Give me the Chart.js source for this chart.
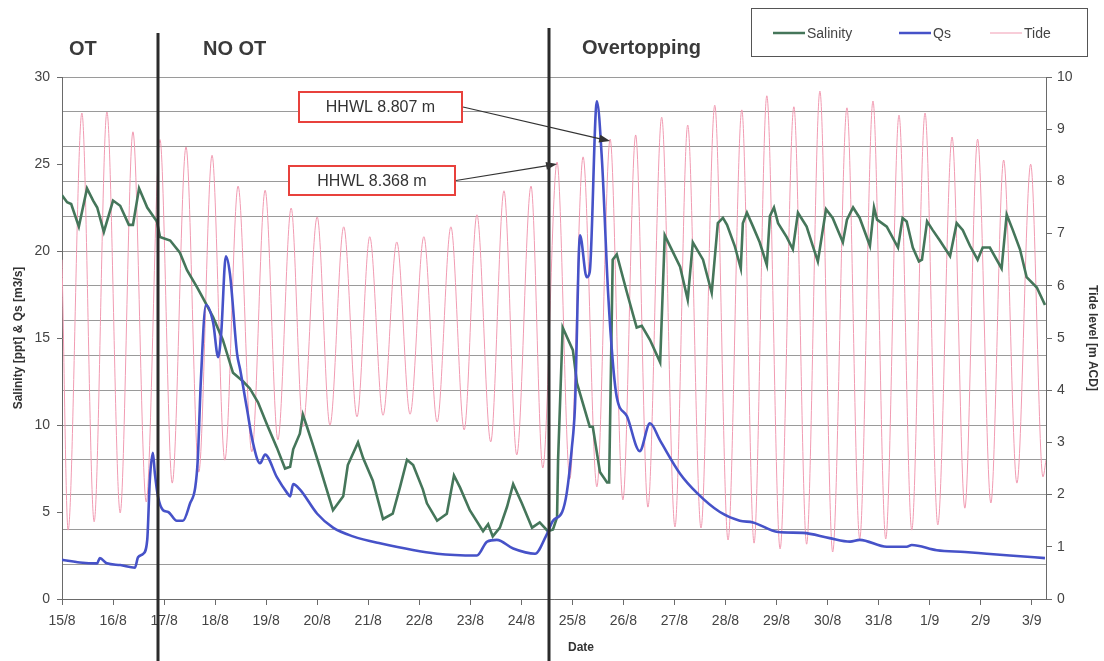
<!DOCTYPE html>
<html>
<head>
<meta charset="utf-8">
<script src="https://cdn.jsdelivr.net/npm/chart.js@4/dist/chart.umd.min.js"></script>
<style>
  html, body { margin: 0; padding: 0; background: #fff; }
</style>
</head>
<body>
<canvas id="chart" width="1104" height="661"></canvas>
<script>
// x values are days since 15/8
const dayLabels = ["15/8", "16/8", "17/8", "18/8", "19/8", "20/8", "21/8", "22/8", "23/8", "24/8",
  "25/8", "26/8", "27/8", "28/8", "29/8", "30/8", "31/8", "1/9", "2/9", "3/9"];

// tide highs and lows [m ACD]
const tideTime = [0, 0.12, 0.39, 0.63, 0.88, 1.14, 1.39, 1.65, 1.92, 2.16, 2.43, 2.68, 2.94, 3.19, 3.45,
  3.72, 3.98, 4.23, 4.49, 4.72, 5.00, 5.25, 5.52, 5.78, 6.03, 6.29, 6.56, 6.82, 7.09, 7.35, 7.62, 7.88,
  8.13, 8.40, 8.66, 8.91, 9.19, 9.42, 9.70, 9.95, 10.21, 10.48, 10.74, 10.99, 11.24, 11.48, 11.75, 12.01,
  12.26, 12.52, 12.79, 13.05, 13.32, 13.56, 13.81, 14.07, 14.34, 14.59, 14.85, 15.10, 15.38, 15.63, 15.89,
  16.14, 16.40, 16.65, 16.91, 17.16, 17.44, 17.69, 17.94, 18.20, 18.45, 18.71, 18.98, 19.22, 19.28];
const tideLevel = [6.5, 1.32, 9.31, 1.48, 9.33, 1.65, 8.95, 1.86, 8.8, 2.22, 8.66, 2.43, 8.5, 2.66, 7.91,
  2.82, 7.83, 3.05, 7.49, 3.3, 7.32, 3.33, 7.13, 3.49, 6.94, 3.52, 6.84, 3.54, 6.94, 3.39, 7.13, 3.24,
  7.36, 3.01, 7.82, 2.76, 7.91, 2.51, 8.37, 2.3, 8.47, 2.15, 8.81, 1.9, 8.89, 1.76, 9.23, 1.38,
  9.08, 1.36, 9.46, 1.13, 9.37, 1.07, 9.64, 0.96, 9.43, 1.05, 9.73, 0.9, 9.41, 1.15, 9.54,
  1.15, 9.27, 1.32, 9.31, 1.42, 8.85, 1.74, 8.81, 1.84, 8.41, 2.22, 8.33, 2.34, 2.66];

// salinity [ppt]
const salTime = [0, 0.10, 0.18, 0.33, 0.49, 0.61, 0.69, 0.82, 1.00, 1.14,
  1.31, 1.39, 1.51, 1.67, 1.86, 1.92, 2.12, 2.31, 2.45, 2.65,
  2.76, 2.96, 3.15, 3.35, 3.55, 3.68, 3.84, 4.02, 4.21, 4.37,
  4.47, 4.53, 4.66, 4.72, 4.80, 4.90, 5.05, 5.31, 5.51, 5.60,
  5.80, 5.90, 6.09, 6.29, 6.48, 6.62, 6.76, 6.88, 7.07, 7.15,
  7.35, 7.54, 7.68, 7.80, 7.99, 8.25, 8.35, 8.44, 8.58, 8.72,
  8.84, 9.01, 9.21, 9.36, 9.52, 9.62, 9.70, 9.72, 9.81, 10.01,
  10.09, 10.34, 10.40, 10.54, 10.68, 10.72, 10.79, 10.87, 11.07, 11.26,
  11.36, 11.52, 11.72, 11.81, 12.11, 12.26, 12.36, 12.56, 12.73, 12.85,
  12.95, 13.03, 13.18, 13.30, 13.34, 13.42, 13.54, 13.67, 13.81, 13.87,
  13.95, 14.03, 14.20, 14.32, 14.42, 14.59, 14.71, 14.81, 14.97, 15.10,
  15.30, 15.38, 15.50, 15.63, 15.83, 15.91, 15.97, 16.16, 16.38, 16.47,
  16.55, 16.67, 16.79, 16.85, 16.95, 17.06, 17.20, 17.40, 17.53, 17.65,
  17.79, 17.94, 18.04, 18.18, 18.41, 18.51, 18.63, 18.77, 18.90, 19.10,
  19.26];
const salValue = [23.2, 22.8, 22.7, 21.4, 23.6, 22.9, 22.5, 21.1, 22.9, 22.6,
  21.5, 21.5, 23.6, 22.5, 21.7, 20.8, 20.6, 19.9, 18.9, 17.9,
  17.3, 16.2, 14.9, 13.0, 12.5, 12.1, 11.3, 10.0, 8.7, 7.5,
  7.6, 8.6, 9.5, 10.6, 9.9, 9.0, 7.6, 5.1, 5.9, 7.7,
  9.0, 8.1, 6.8, 4.6, 4.9, 6.4, 8.0, 7.7, 6.3, 5.5,
  4.5, 4.9, 7.1, 6.4, 5.1, 3.9, 4.3, 3.6, 4.1, 5.3,
  6.6, 5.5, 4.1, 4.4, 3.9, 4.0, 4.7, 8.0, 15.6, 14.3,
  12.4, 9.9, 9.9, 7.3, 6.7, 6.7, 19.5, 19.8, 17.6, 15.6,
  15.7, 14.9, 13.6, 20.9, 19.1, 17.2, 20.5, 19.5, 17.6, 21.6,
  21.9, 21.5, 20.3, 19.0, 21.6, 22.2, 21.4, 20.5, 19.2, 22.0,
  22.5, 21.6, 20.8, 20.1, 22.2, 21.4, 20.3, 19.4, 22.4, 21.9,
  20.5, 21.8, 22.5, 21.9, 20.3, 22.5, 21.8, 21.4, 20.2, 21.9,
  21.7, 20.2, 19.4, 19.5, 21.7, 21.2, 20.6, 19.7, 21.6, 21.2,
  20.3, 19.5, 20.2, 20.2, 19.0, 22.1, 21.2, 20.1, 18.5, 17.9,
  16.9];

// Qs [m3/s]
const qsTime = [0, 0.35, 0.69, 0.74, 0.88, 1.14, 1.43, 1.49, 1.59, 1.67,
  1.72, 1.78, 1.82, 1.88, 1.98, 2.08, 2.25, 2.37, 2.51, 2.61,
  2.66, 2.72, 2.82, 2.96, 3.06, 3.12, 3.21, 3.29, 3.43, 3.49,
  3.62, 3.74, 3.88, 3.98, 4.21, 4.41, 4.47, 4.53, 4.66, 5.00,
  5.31, 5.70, 6.23, 7.35, 8.13, 8.33, 8.52, 8.84, 9.27, 9.48,
  9.62, 9.80, 9.89, 9.99, 10.05, 10.15, 10.28, 10.34, 10.48, 10.58,
  10.70, 10.79, 10.87, 11.07, 11.32, 11.52, 11.72, 12.11, 12.44, 12.89,
  13.28, 13.54, 14.03, 14.52, 15.04, 15.44, 15.63, 16.16, 16.55, 16.65,
  17.14, 17.69, 18.12, 18.57, 19.26];
const qsValue = [2.25, 2.1, 2.05, 2.35, 2.05, 1.95, 1.8, 2.4, 2.6, 3.4,
  6.8, 8.4, 7.2, 5.9, 5.1, 5.0, 4.5, 4.5, 5.5, 6.4,
  8.0, 12.5, 16.9, 15.9, 13.9, 15.3, 19.7, 18.7, 14.1, 13.2,
  11.0, 9.0, 7.8, 8.3, 7.0, 6.1, 5.9, 6.6, 6.3, 4.9,
  4.1, 3.6, 3.2, 2.6, 2.5, 3.3, 3.4, 2.9, 2.6, 3.6,
  4.5, 5.0, 6.1, 8.7, 11.0, 20.9, 18.5, 18.8, 28.6, 25.2,
  17.6, 13.7, 11.6, 10.5, 8.5, 10.1, 9.1, 7.2, 6.1, 5.0,
  4.5, 4.4, 3.85, 3.8, 3.5, 3.3, 3.4, 3.0, 3.0, 3.1,
  2.8, 2.7, 2.6, 2.5, 2.35];

// phase boundaries (days) and their labels
const phaseBreaks = [1.88, 9.54];
const phaseNames = ["OT", "NO OT", "Overtopping"];

// HHWL callouts: tide peaks they point at
const hhwlText = ["HHWL 8.368 m", "HHWL 8.807 m"];
const hhwlTime = [9.70, 10.74];
const hhwlLevel = [8.37, 8.81];

const FONT = "'Liberation Sans', Arial, sans-serif";
Chart.defaults.font.family = FONT;

const toPoints = (xs, ys) => xs.map((x, i) => ({ x: x, y: ys[i] }));

const colors = { sal: "#45765a", qs: "#4652c8", tide: "#f19bb2", axis: "#6a6a6a", text: "#444" };

const drawArrow = (ctx, x1, y1, x2, y2) => {
  const a = Math.atan2(y2 - y1, x2 - x1);
  ctx.beginPath();
  ctx.moveTo(x1, y1);
  ctx.lineTo(x2 - 8 * Math.cos(a), y2 - 8 * Math.sin(a));
  ctx.stroke();
  ctx.beginPath();
  ctx.moveTo(x2, y2);
  ctx.lineTo(x2 - 11 * Math.cos(a) + 4 * Math.sin(a), y2 - 11 * Math.sin(a) - 4 * Math.cos(a));
  ctx.lineTo(x2 - 11 * Math.cos(a) - 4 * Math.sin(a), y2 - 11 * Math.sin(a) + 4 * Math.cos(a));
  ctx.closePath();
  ctx.fill();
};

const overlay = {
  id: "overlay",
  afterDraw(chart) {
    const ctx = chart.ctx;
    const xs = chart.scales.x;
    const ys = chart.scales.y1;
    ctx.save();

    // phase separators
    ctx.strokeStyle = "#2b2b2b";
    ctx.lineWidth = 3;
    const tops = [33, 28];
    phaseBreaks.forEach((d, i) => {
      const px = Math.round(xs.getPixelForValue(d));
      ctx.beginPath();
      ctx.moveTo(px, tops[i]);
      ctx.lineTo(px, chart.height);
      ctx.stroke();
    });

    // phase names
    ctx.fillStyle = "#3a3a3a";
    ctx.font = "bold 20px " + FONT;
    ctx.textBaseline = "middle";
    ctx.textAlign = "left";
    ctx.fillText(phaseNames[0], 69, 49);
    ctx.fillText(phaseNames[1], 203, 49);
    ctx.fillText(phaseNames[2], 582, 48);

    // HHWL callouts
    const boxes = [
      { x: 289, y: 166, w: 166, h: 29 },
      { x: 299, y: 92, w: 163, h: 30 },
    ];
    boxes.forEach((b, i) => {
      ctx.fillStyle = "#fff";
      ctx.fillRect(b.x, b.y, b.w, b.h);
      ctx.strokeStyle = "#e8413c";
      ctx.lineWidth = 2;
      ctx.strokeRect(b.x, b.y, b.w, b.h);
      ctx.fillStyle = "#333";
      ctx.font = "16px " + FONT;
      ctx.textAlign = "center";
      ctx.fillText(hhwlText[i], b.x + b.w / 2, b.y + b.h / 2 + 1);
      ctx.strokeStyle = "#333";
      ctx.fillStyle = "#333";
      ctx.lineWidth = 1.2;
      drawArrow(ctx, b.x + b.w + 1, b.y + b.h / 2, xs.getPixelForValue(hhwlTime[i]), ys.getPixelForValue(hhwlLevel[i]) + 2);
    });

    // legend
    ctx.fillStyle = "#fff";
    ctx.fillRect(751, 8, 336, 48);
    ctx.strokeStyle = "#555";
    ctx.lineWidth = 1;
    ctx.strokeRect(751.5, 8.5, 336, 48);
    const items = [
      { label: "Salinity", color: colors.sal, w: 2.5, x: 773 },
      { label: "Qs", color: colors.qs, w: 2.5, x: 899 },
      { label: "Tide", color: colors.tide, w: 1, x: 990 },
    ];
    ctx.font = "14px " + FONT;
    ctx.textAlign = "left";
    items.forEach((it) => {
      ctx.strokeStyle = it.color;
      ctx.lineWidth = it.w;
      ctx.beginPath();
      ctx.moveTo(it.x, 33);
      ctx.lineTo(it.x + 32, 33);
      ctx.stroke();
      ctx.fillStyle = "#444";
      ctx.fillText(it.label, it.x + 34, 34);
    });

    // x axis title
    ctx.fillStyle = "#333";
    ctx.font = "bold 12px " + FONT;
    ctx.textAlign = "center";
    ctx.fillText("Date", 581, 648);

    ctx.restore();
  },
};

new Chart(document.getElementById("chart"), {
  type: "line",
  data: {
    datasets: [
      {
        label: "Qs",
        data: toPoints(qsTime, qsValue),
        borderColor: colors.qs,
        borderWidth: 2.6,
        pointRadius: 0,
        cubicInterpolationMode: "monotone",
        yAxisID: "y",
      },
      {
        label: "Salinity",
        data: toPoints(salTime, salValue),
        borderColor: colors.sal,
        borderWidth: 2.6,
        pointRadius: 0,
        tension: 0,
        yAxisID: "y",
      },
      {
        label: "Tide",
        data: toPoints(tideTime, tideLevel),
        borderColor: colors.tide,
        borderWidth: 1,
        pointRadius: 0,
        cubicInterpolationMode: "monotone",
        yAxisID: "y1",
      },
    ],
  },
  options: {
    responsive: false,
    devicePixelRatio: 1,
    animation: false,
    layout: { padding: { top: 77, left: 0, right: 0, bottom: 0 } },
    plugins: { legend: { display: false }, tooltip: { enabled: false } },
    scales: {
      x: {
        type: "linear",
        min: 0,
        max: 19.28,
        afterBuildTicks: (scale) => {
          scale.ticks = dayLabels.map((_, i) => ({ value: i }));
        },
        ticks: {
          autoSkip: false,
          maxRotation: 0,
          padding: 8,
          color: colors.text,
          font: { size: 14 },
          callback: (value, index) => dayLabels[index],
        },
        grid: { drawOnChartArea: false, tickLength: 6, color: colors.axis },
        border: { color: colors.axis },
        afterFit: (scale) => {
          scale.height = 62;
        },
      },
      grid2: {
        type: "linear",
        position: "left",
        min: 0,
        max: 30,
        ticks: { display: false, stepSize: 2 },
        grid: { drawTicks: false, color: "#9a9a9a", lineWidth: 1 },
        border: { display: false },
        afterFit: (scale) => {
          scale.width = 0;
        },
      },
      y: {
        position: "left",
        min: 0,
        max: 30,
        ticks: { stepSize: 5, padding: 7, color: colors.text, font: { size: 14 } },
        grid: { drawOnChartArea: false, tickLength: 5, color: colors.axis },
        border: { color: colors.axis },
        title: {
          display: true,
          text: "Salinity [ppt] & Qs [m3/s]",
          color: "#333",
          font: { size: 12, weight: "bold" },
          padding: { top: 11, bottom: 0 },
        },
        afterFit: (scale) => {
          scale.width = 62;
        },
      },
      y1: {
        position: "right",
        min: 0,
        max: 10,
        ticks: { stepSize: 1, padding: 5, color: colors.text, font: { size: 14 } },
        grid: { drawOnChartArea: false, tickLength: 6, color: colors.axis },
        border: { color: colors.axis },
        title: {
          display: true,
          text: "Tide level [m ACD]",
          color: "#333",
          font: { size: 12, weight: "bold" },
          padding: { top: 4, bottom: 0 },
        },
        afterFit: (scale) => {
          scale.width = 58;
        },
      },
    },
  },
  plugins: [overlay],
});
</script>
</body>
</html>
